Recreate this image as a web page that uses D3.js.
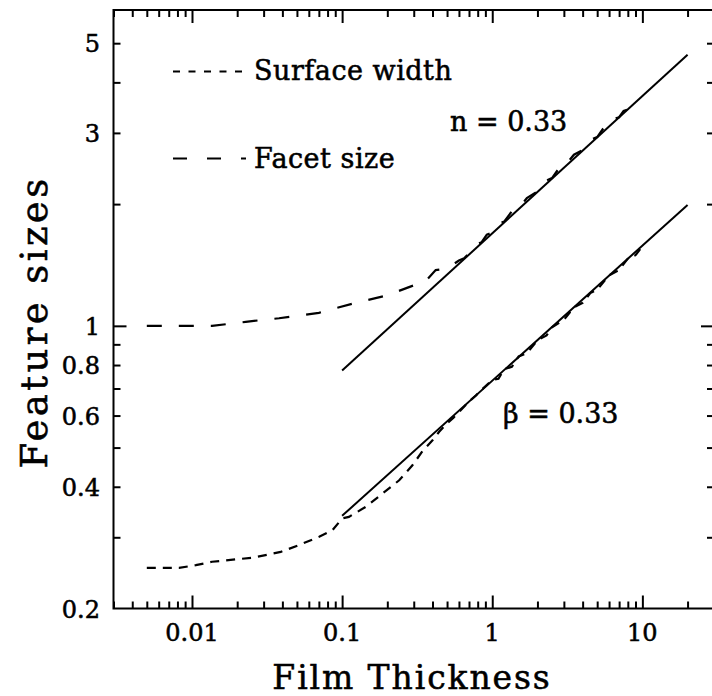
<!DOCTYPE html>
<html>
<head>
<meta charset="utf-8">
<script src="https://cdn.jsdelivr.net/npm/d3@7"></script>
<style>
  html, body { margin: 0; padding: 0; background: #fff; }
  svg { display: block; }
  text { font-family: "DejaVu Serif", "Liberation Serif", serif; fill: #000; stroke: #000; stroke-width: 0.55px; }
</style>
</head>
<body>
<svg id="chart" width="712" height="696"></svg>
<script>
// ---------------- data ----------------
const xTickLabels = ["0.01", "0.1", "1", "10"];
const xTickValues = [0.01, 0.1, 1, 10];
const yTickLabels = ["5", "3", "1", "0.8", "0.6", "0.4", "0.2"];
const yTickValues = [5, 3, 1, 0.8, 0.6, 0.4, 0.2];

const facetThickness = [0.005, 0.0136, 0.0228, 0.0294, 0.038, 0.07, 0.12, 0.2, 0.326,
  0.36, 0.42, 0.46, 0.49, 0.55, 0.6, 0.65, 0.7, 0.78, 0.85, 0.92, 1.0, 1.1, 1.2, 1.35,
  1.5, 1.7, 2.0, 2.2, 2.5, 2.8, 3.0, 3.5, 4.0, 4.5, 5.0, 5.5, 6.0, 6.5, 7.0, 7.5, 8.0, 8.6, 9.3];
const facetSize = [1.0, 1.0, 1.023, 1.034, 1.044, 1.077, 1.137, 1.19, 1.274,
  1.29, 1.374, 1.38, 1.40, 1.42, 1.45, 1.47, 1.51, 1.59, 1.61, 1.68, 1.70, 1.79, 1.81, 1.92,
  1.95, 2.07, 2.15, 2.27, 2.32, 2.46, 2.47, 2.65, 2.72, 2.88, 2.93, 3.08, 3.11, 3.25, 3.28, 3.40, 3.43, 3.57, 3.63];

const surfaceThickness = [0.005, 0.0082, 0.0106, 0.0136, 0.0252, 0.039, 0.0517, 0.0703, 0.086,
  0.1, 0.111, 0.144, 0.186, 0.24, 0.294, 0.343, 0.40, 0.443, 0.5, 0.55, 0.6, 0.7, 0.78, 0.85,
  1.0, 1.1, 1.2, 1.35, 1.5, 1.7, 2.0, 2.3, 2.5, 3.0, 3.5, 4.0, 4.5, 5.0, 6.0, 7.0, 8.0, 9.0, 10.3];
const surfaceWidth = [0.252, 0.252, 0.256, 0.261, 0.267, 0.276, 0.287, 0.301, 0.312,
  0.334, 0.337, 0.357, 0.385, 0.415, 0.452, 0.49, 0.521, 0.547, 0.574, 0.592, 0.612, 0.650, 0.673, 0.695,
  0.735, 0.740, 0.781, 0.792, 0.840, 0.856, 0.921, 0.947, 0.992, 1.035, 1.112, 1.140, 1.205, 1.228, 1.333, 1.375, 1.466, 1.495, 1.595];

const fitThickness = [0.1, 20];
const facetFit = [0.775, 4.68];
const surfaceFit = [0.339, 1.99];

const legendLabels = ["Surface width", "Facet size"];
const annotations = ["n = 0.33", "\u03B2 = 0.33"];

// ---------------- layout ----------------
const svg = d3.select("#chart");
const mLeft = 113.5, mRight = 714, mTop = 10, mBottom = 608.5;

const x = d3.scaleLog().domain([0.003, 30]).range([mLeft, mRight]);
const y = d3.scaleLog().domain([0.2, 6.04]).range([mBottom, mTop]);

// minor tick values
const xMinor = [];
[0.001, 0.01, 0.1, 1, 10].forEach(d => {
  for (let k = 2; k <= 9; k++) {
    const v = +(d * k).toPrecision(3);
    if (v >= 0.003 && v <= 30) xMinor.push(v);
  }
});
const xMajor = xTickValues;
const yMinor = [0.3, 0.4, 0.5, 0.6, 0.7, 0.8, 0.9, 2, 3, 4, 5];
const yMajor = [1];

const majorLen = 13, minorLen = 7;

// frame
svg.append("rect").attr("x", mLeft).attr("y", mTop)
  .attr("width", mRight - mLeft).attr("height", mBottom - mTop)
  .attr("fill", "none").attr("stroke", "#000").attr("stroke-width", 2);

function addAxis(gen, tx, ty) {
  const g = svg.append("g").attr("transform", `translate(${tx},${ty})`).call(gen);
  g.select(".domain").remove();
  g.selectAll("line").attr("stroke", "#000").attr("stroke-width", 2);
  return g;
}
addAxis(d3.axisBottom(x).tickValues(xMinor).tickSize(-minorLen).tickFormat(""), 0, mBottom);
addAxis(d3.axisBottom(x).tickValues(xMajor).tickSize(-majorLen).tickFormat(""), 0, mBottom);
addAxis(d3.axisTop(x).tickValues(xMinor).tickSize(-minorLen).tickFormat(""), 0, mTop);
addAxis(d3.axisTop(x).tickValues(xMajor).tickSize(-majorLen).tickFormat(""), 0, mTop);
addAxis(d3.axisLeft(y).tickValues(yMinor).tickSize(-minorLen).tickFormat(""), mLeft, 0);
addAxis(d3.axisLeft(y).tickValues(yMajor).tickSize(-majorLen).tickFormat(""), mLeft, 0);
addAxis(d3.axisRight(y).tickValues(yMinor).tickSize(-minorLen).tickFormat(""), mRight, 0);
addAxis(d3.axisRight(y).tickValues(yMajor).tickSize(-majorLen).tickFormat(""), mRight, 0);

// tick labels
svg.append("g").selectAll("text").data(xTickValues).join("text")
  .attr("x", d => x(d)).attr("y", 641)
  .attr("text-anchor", "middle").attr("font-size", 24)
  .text((d, i) => xTickLabels[i]);
svg.append("g").selectAll("text").data(yTickValues).join("text")
  .attr("x", 100).attr("y", d => y(d) + 9)
  .attr("text-anchor", "end").attr("font-size", 24)
  .text((d, i) => yTickLabels[i]);

// axis titles
svg.append("text").attr("x", 412).attr("y", 689).attr("text-anchor", "middle")
  .attr("font-size", 33).attr("letter-spacing", 1.9).text("Film Thickness");
svg.append("text").attr("transform", "translate(47,322) rotate(-90)").attr("text-anchor", "middle")
  .attr("font-size", 37).attr("letter-spacing", 3.4).text("Feature sizes");

// lines
const line = d3.line().x(d => x(d[0])).y(d => y(d[1]));
svg.append("path").datum(fitThickness.map((t, i) => [t, facetFit[i]]))
  .attr("d", line).attr("fill", "none").attr("stroke", "#000").attr("stroke-width", 2);
svg.append("path").datum(fitThickness.map((t, i) => [t, surfaceFit[i]]))
  .attr("d", line).attr("fill", "none").attr("stroke", "#000").attr("stroke-width", 2);

svg.append("path").datum(facetThickness.map((t, i) => [t, facetSize[i]]))
  .attr("d", line).attr("fill", "none").attr("stroke", "#000").attr("stroke-width", 2.2)
  .attr("stroke-dasharray", "15,17");
svg.append("path").datum(surfaceThickness.map((t, i) => [t, surfaceWidth[i]]))
  .attr("d", line).attr("fill", "none").attr("stroke", "#000").attr("stroke-width", 2.2)
  .attr("stroke-dasharray", "9,7");

// legend
const leg = svg.append("g");
leg.append("line").attr("x1", 173).attr("x2", 247).attr("y1", 71.5).attr("y2", 71.5)
  .attr("stroke", "#000").attr("stroke-width", 2).attr("stroke-dasharray", "7,8.5");
leg.append("line").attr("x1", 173).attr("x2", 246).attr("y1", 158.5).attr("y2", 158.5)
  .attr("stroke", "#000").attr("stroke-width", 2).attr("stroke-dasharray", "14,20");
leg.selectAll("text").data(legendLabels).join("text")
  .attr("x", 254).attr("y", (d, i) => i === 0 ? 80 : 168)
  .attr("font-size", 27).attr("letter-spacing", 0.5).text(d => d);

// annotations
svg.append("text").attr("x", 450).attr("y", 131).attr("font-size", 27).text(annotations[0]);
svg.append("text").attr("x", 503).attr("y", 423).attr("font-size", 27).text(annotations[1]);
</script>
</body>
</html>
